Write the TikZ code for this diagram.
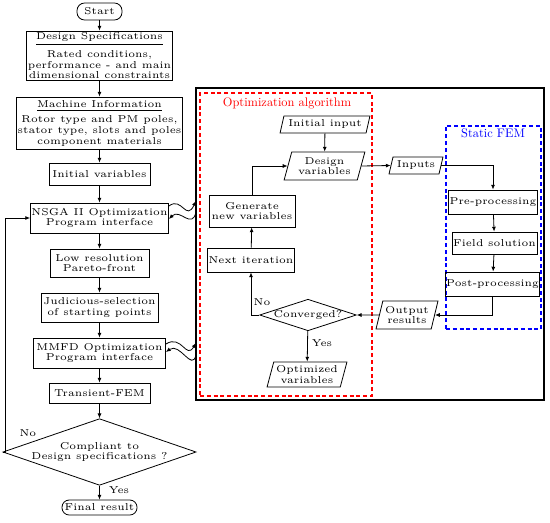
\documentclass[tikz,border=0pt]{standalone}
\usetikzlibrary{shapes.geometric,arrows.meta,calc}
\font\titlefnt="[lmroman10-regular]:mapping=tex-text" at 6.2pt
\tikzset{
  txt/.style={font=\fontsize{5}{5.3}\selectfont, align=center},
  box/.style={txt, draw, line width=0.4pt, inner sep=0.5pt},
  term/.style={box, rounded corners=3.8pt},
  iobox/.style={txt, draw, line width=0.4pt, trapezium, trapezium left angle=72, trapezium right angle=108, trapezium stretches=true, inner sep=0.5pt},
  decide/.style={txt, draw, line width=0.4pt, diamond, inner sep=0pt},
  conn/.style={line width=0.4pt, -{Latex[length=2.4pt,width=2pt]}},
  plain/.style={line width=0.4pt},
  sz/.style 2 args={minimum width=#1pt, minimum height=#2pt},
}
\begin{document}
\begin{tikzpicture}[x=0.5pt,y=-0.5pt]
\useasboundingbox (0,0) rectangle (550,523);
% left column
\node[term, sz={22.5}{8.5}] (start) at (99.5,11.5) {Start};
\node[box, sz={73}{24.5}] (design) at (99.5,55.5) {\underline{Design Specifications}\\[1.6pt]Rated conditions,\\performance - and main\\dimensional constraints};
\node[box, sz={82}{26}] (machine) at (99.5,123) {\underline{Machine Information}\\[1.4pt]Rotor type and PM poles,\\stator type, slots and poles\\component materials};
\node[box, sz={50.5}{11}] (initvar) at (99.5,174) {Initial variables};
\node[box, sz={68}{15}] (nsga) at (99.5,218) {NSGA II Optimization\\Program interface};
\node[box, sz={49.5}{14}] (lowres) at (99.5,263) {Low resolution\\Pareto-front};
\node[box, sz={58.5}{14.5}] (judic) at (99.5,307.5) {Judicious-selection\\of starting points};
\node[box, sz={66}{15}] (mmfd) at (99.5,353) {MMFD Optimization\\Program interface};
\node[box, sz={50.5}{10}] (trans) at (99.5,393) {Transient-FEM};
\node[decide, shape aspect=2.9, sz={91}{31.5}] (compl) at (99.5,452) {Compliant to\\Design specifications ?};
\node[term, sz={37.5}{7.5}, rounded corners=3.6pt] (final) at (99.5,507.5) {Final result};
\node[txt] (nolbl) at (28,433) {No};
\node[txt] (yeslbl) at (119,490) {Yes};
\coordinate (loopc) at (5,452);

\draw[conn] (start) -- (design);
\draw[conn] (design) -- (machine);
\draw[conn] (machine) -- (initvar);
\draw[conn] (initvar) -- (nsga);
\draw[conn] (nsga) -- (lowres);
\draw[conn] (lowres) -- (judic);
\draw[conn] (judic) -- (mmfd);
\draw[conn] (mmfd) -- (trans);
\draw[conn] (trans) -- (compl);
\draw[conn] (compl) -- (final);
\draw[conn] (compl.west) -- (loopc) |- (nsga.west);

% big box
\node[draw, line width=0.8pt, minimum width=174pt, minimum height=156pt, inner sep=0pt] (big) at (370,244) {};
\node[draw=red, dashed, dash pattern=on 2pt off 1.4pt, line width=0.65pt, minimum width=86pt, minimum height=151.5pt, inner sep=0pt] (redbox) at (286,244.5) {};
\node[draw=blue, dashed, dash pattern=on 2pt off 1.4pt, line width=0.65pt, minimum width=47.5pt, minimum height=101.5pt, inner sep=0pt] (bluebox) at (493.5,227.5) {};
\node[text=red, font=\titlefnt, inner sep=0pt] (redtitle) at (287,103) {Optimization algorithm};
\node[text=blue, font=\titlefnt, inner sep=0pt] (bluetitle) at (493,133) {Static FEM};

% wavy links
\coordinate (wa1) at (196,201);
\coordinate (wa2) at (196,212);
\coordinate (wb1) at (196,343);
\coordinate (wb2) at (196,355);
\draw[conn] ($(nsga.east)+(0,-12)$) .. controls (182,196) and (186,222) .. (wa1);
\draw[conn] (wa2) .. controls (192,230) and (180,208) .. ($(nsga.east)+(0,1)$);
\draw[conn] ($(mmfd.east)+(0,-9)$) .. controls (182,334) and (186,360) .. (wb1);
\draw[conn] (wb2) .. controls (192,372) and (180,342) .. ($(mmfd.east)+(0,-1)$);

% optimization algorithm
\node[iobox, sz={45}{8.5}] (initin) at (325,124.5) {Initial input};
\node[iobox, sz={40.5}{14}] (dv) at (324.5,166) {Design\\variables};
\node[box, sz={43}{16}] (gen) at (252,211) {Generate\\new variables};
\node[box, sz={42.5}{12}] (next) at (251,260) {Next iteration};
\node[decide, shape aspect=3.07, sz={46}{15}] (conv) at (308,315) {Converged?};
\node[iobox, sz={40}{12.5}] (opt) at (307,374.5) {Optimized\\variables};
\node[txt] (no2) at (262,302) {No};
\node[txt] (yes2) at (322,343) {Yes};

% static FEM
\node[iobox, sz={27}{8.5}] (inputs) at (416,165.5) {Inputs};
\node[box, sz={43}{12}] (pre) at (493,202) {Pre-processing};
\node[box, sz={42.5}{11}] (field) at (494.5,243) {Field solution};
\node[box, sz={44.5}{12}] (post) at (492.5,284) {Post-processing};
\node[iobox, sz={31}{14}] (output) at (407,315) {Output\\results};

\draw[conn] (initin) -- (dv);
\draw[conn] (gen.north) |- (dv.west);
\draw[conn] (next) -- (gen);
\draw[conn] (conv.west) -| (next.south);
\draw[conn] (conv) -- (opt);
\draw[conn] (dv.east) -- (inputs.west);
\draw[conn] (inputs.east) -| (pre.north);
\draw[conn] (pre) -- (field);
\draw[conn] (field) -- (post);
\draw[conn] (post.south) |- (output.east);
\draw[conn] (output.west) -- (conv.east);
\end{tikzpicture}
\end{document}
